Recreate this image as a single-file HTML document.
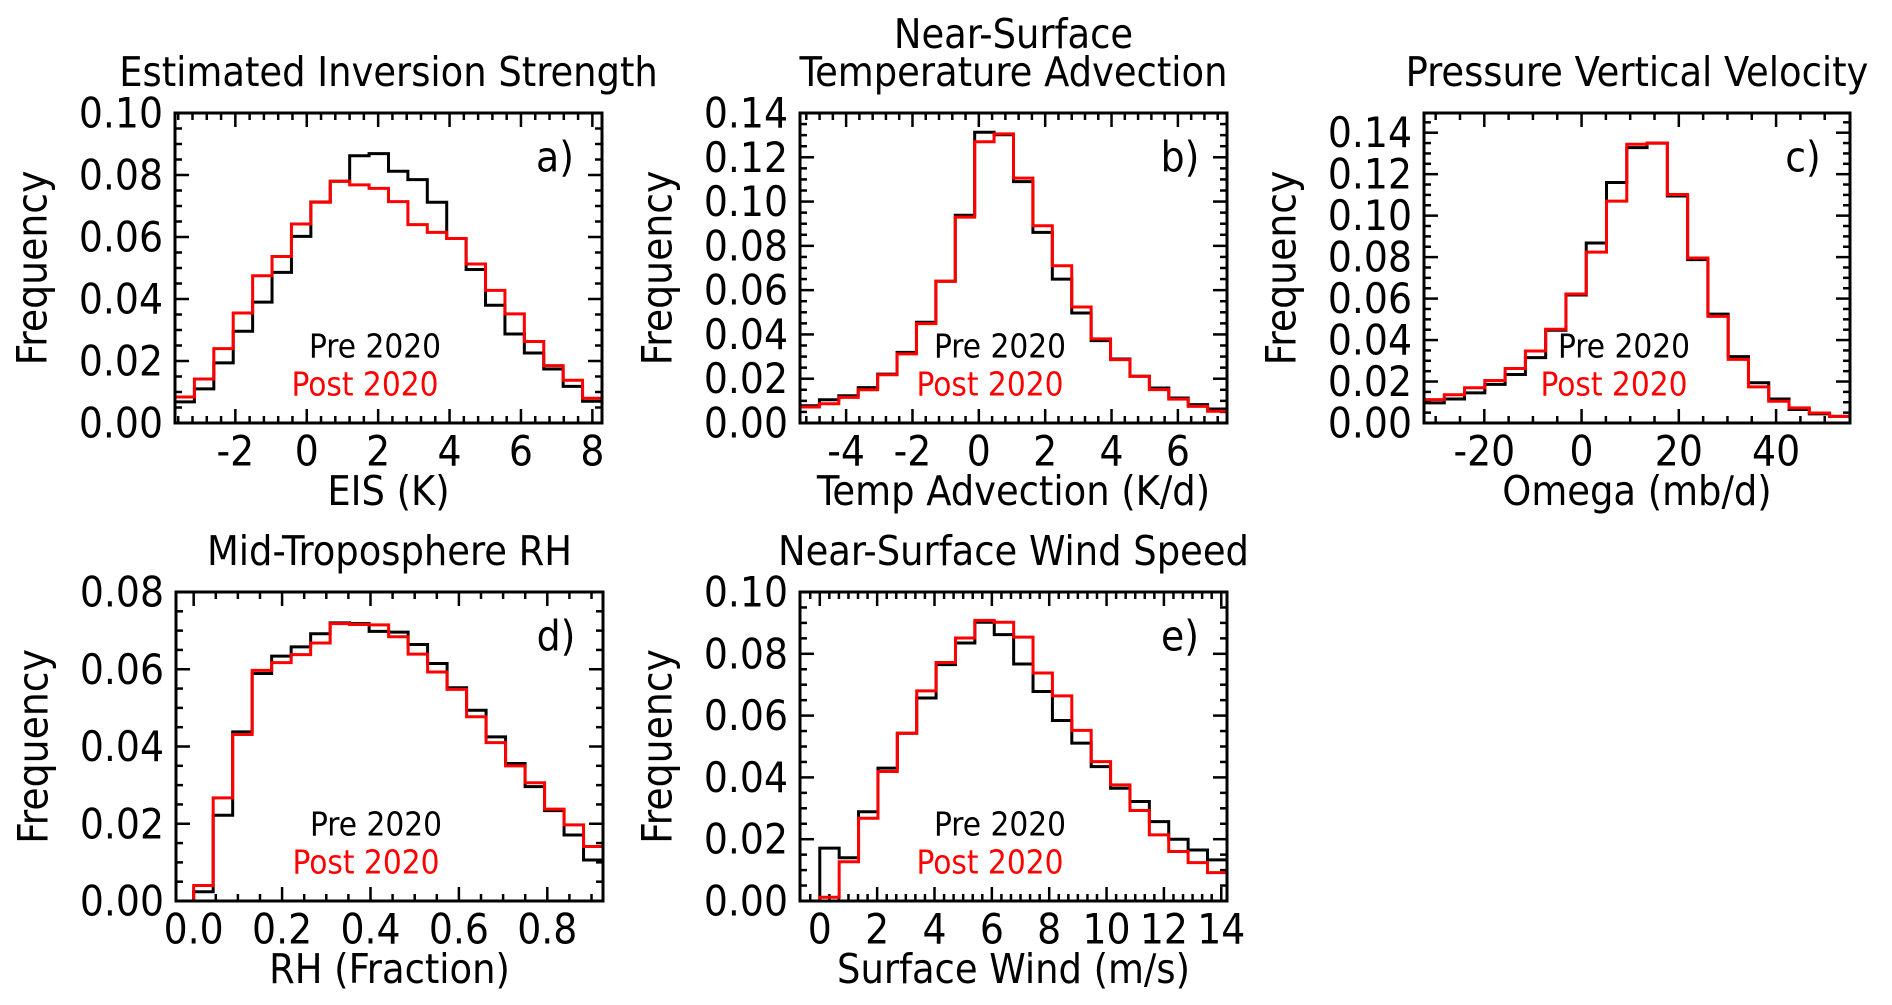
<!DOCTYPE html>
<html><head><meta charset="utf-8"><style>
html,body{margin:0;padding:0;background:#fff}
svg{display:block}
text{font-family:"DejaVu Sans Condensed","DejaVu Sans","Liberation Sans",sans-serif}
</style></head><body>
<svg id="fig" width="1892" height="1005" viewBox="0 0 1892 1005" xmlns="http://www.w3.org/2000/svg"></svg>
<script>
// ---- data ----
const eisPre  = [0.0068,0.011,0.0194,0.0296,0.039,0.0486,0.0602,0.0713,0.078,0.0862,0.0869,0.0812,0.0785,0.0712,0.0595,0.0495,0.038,0.0287,0.0226,0.0174,0.0118,0.007];
const eisPost = [0.0084,0.0142,0.024,0.0355,0.0475,0.0537,0.0642,0.0712,0.078,0.0768,0.0757,0.0714,0.064,0.0615,0.0595,0.0513,0.0428,0.0352,0.0263,0.0185,0.0138,0.008];
const advPre  = [0.0078,0.0105,0.0123,0.016,0.0221,0.0319,0.0455,0.064,0.0938,0.1313,0.1302,0.109,0.0861,0.065,0.0497,0.0372,0.0289,0.0211,0.0158,0.0113,0.0083,0.0063];
const advPost = [0.0072,0.0087,0.0116,0.015,0.0218,0.0312,0.0449,0.064,0.093,0.127,0.1306,0.1106,0.0891,0.071,0.0524,0.038,0.0286,0.0211,0.0151,0.0108,0.0075,0.0053];
const omgPre  = [0.0097,0.0116,0.0145,0.0186,0.0234,0.0315,0.0447,0.0617,0.0868,0.116,0.1328,0.135,0.1095,0.0788,0.0525,0.032,0.0194,0.0116,0.0065,0.0044,0.0032];
const omgPost = [0.0113,0.0136,0.017,0.0205,0.0263,0.0347,0.0452,0.0622,0.0824,0.107,0.1344,0.135,0.1102,0.0796,0.0514,0.0307,0.0174,0.0105,0.0073,0.0048,0.0032];
const rhPre   = [0.0024,0.0222,0.0438,0.0589,0.0634,0.0658,0.0692,0.072,0.0718,0.0698,0.0696,0.0664,0.0615,0.0552,0.0494,0.0425,0.0356,0.0296,0.0234,0.0171,0.0106];
const rhPost  = [0.004,0.0267,0.0431,0.0597,0.0617,0.0638,0.0668,0.0718,0.0716,0.0715,0.0684,0.0639,0.0593,0.0548,0.0477,0.041,0.035,0.0306,0.0238,0.0197,0.0141];
const windPre = [0.0171,0.014,0.0289,0.043,0.0543,0.0657,0.0765,0.0835,0.0902,0.0862,0.0767,0.0678,0.0584,0.0511,0.0435,0.0365,0.0322,0.0257,0.02,0.0165,0.0133];
const windPost= [0.0012,0.0127,0.0268,0.0419,0.0543,0.068,0.0772,0.0851,0.0908,0.0902,0.0854,0.0738,0.0664,0.0552,0.0451,0.0376,0.0293,0.0214,0.016,0.0124,0.0092];
// bin starts / bin widths
const binStart = [-3.69,-5.39,-32.4,0.0,0.0];
const binWidth = [0.5436,0.585,4.17,0.0441,0.676];
const xTicksA = [-2,0,2,4,6,8];
const xTicksB = [-4,-2,0,2,4,6];
const xTicksC = [-20,0,20,40];
const xTicksD = [0,0.2,0.4,0.6,0.8];
const xTicksE = [0,2,4,6,8,10,12,14];
const yTicksA = [0,0.02,0.04,0.06,0.08,0.10];
const yTicksB = [0,0.02,0.04,0.06,0.08,0.10,0.12,0.14];
const yTicksD = [0,0.02,0.04,0.06,0.08];

const NS="http://www.w3.org/2000/svg";
const svg=document.getElementById('fig');
function mk(tag,attrs,parent){const e=document.createElementNS(NS,tag);for(const k in attrs)e.setAttribute(k,attrs[k]);(parent||svg).appendChild(e);return e;}
function txt(s,x,y,size,attrs,parent,color){const t=mk('text',Object.assign({x:x,y:y,'font-size':size,'text-anchor':'middle','dominant-baseline':'central'},attrs||{}),parent);t.style.fill=color||'#000';t.textContent=s;return t;}

const panels=[
 {id:'a',box:[175,113,602,423],xr:[-3.69,8.27],yr:[0,0.10],pre:eisPre,post:eisPost,bi:0,xt:xTicksA,xsub:5,yt:yTicksA,ysub:4,title:['Estimated Inversion Strength'],xl:'EIS (K)',xfmt:v=>String(v)},
 {id:'b',box:[800,113,1227,423],xr:[-5.39,7.48],yr:[0,0.14],pre:advPre,post:advPost,bi:1,xt:xTicksB,xsub:5,yt:yTicksB,ysub:4,title:['Near-Surface','Temperature Advection'],xl:'Temp Advection (K/d)',xfmt:v=>String(v)},
 {id:'c',box:[1424,113,1850,423],xr:[-32.4,55.2],yr:[0,0.1495],pre:omgPre,post:omgPost,bi:2,xt:xTicksC,xsub:4,yt:yTicksB,ysub:4,title:['Pressure Vertical Velocity'],xl:'Omega (mb/d)',xfmt:v=>String(v)},
 {id:'d',box:[176,592,603,901],xr:[-0.04,0.926],yr:[0,0.08],pre:rhPre,post:rhPost,bi:3,xt:xTicksD,xsub:4,yt:yTicksD,ysub:4,title:['Mid-Troposphere RH'],xl:'RH (Fraction)',xfmt:v=>v.toFixed(1)},
 {id:'e',box:[800,592,1227,901],xr:[-0.69,14.2],yr:[0,0.10],pre:windPre,post:windPost,bi:4,xt:xTicksE,xsub:6,yt:yTicksA,ysub:4,title:['Near-Surface Wind Speed'],xl:'Surface Wind (m/s)',xfmt:v=>String(v)}
];

panels.forEach(p=>{
  const [x0,y0,x1,y1]=p.box;
  const g=mk('g',{});
  
  
  const X=v=>x0+(v-p.xr[0])/(p.xr[1]-p.xr[0])*(x1-x0);
  const Y=v=>y1-(v-p.yr[0])/(p.yr[1]-p.yr[0])*(y1-y0);
  const cx=(x0+x1)/2, cy=(y0+y1)/2;
  p.title.forEach((t,i)=>{
    const n=p.title.length;
    const el=txt(t,cx,y0-41-(n-1-i)*38,41,{},g);
    
    
  });
  const tk=mk('g',{stroke:'#000','stroke-width':2.5},g);
  
  
  const xstep=p.xt[1]-p.xt[0];
  const xmin=p.xt[0]-xstep*3, xmax=p.xt[p.xt.length-1]+xstep*3;
  for(let v=xmin; v<=xmax+1e-9; v+=xstep/p.xsub){
    const px=X(v); if(px<x0+1||px>x1-1) continue;
    const major=Math.abs(Math.round((v-p.xt[0])/xstep)*xstep-(v-p.xt[0]))<1e-6;
    const L=major?14:7;
    mk('line',{x1:px,y1:y1,x2:px,y2:y1-L},tk);
    mk('line',{x1:px,y1:y0,x2:px,y2:y0+L},tk);
  }
  const ystep=0.02;
  for(let v=0; v<=p.yr[1]+1e-9; v+=ystep/p.ysub){
    const py=Y(v); if(py<y0+1||py>y1-1) continue;
    const major=Math.abs(Math.round(v/ystep)*ystep-v)<1e-6;
    const L=major?14:7;
    mk('line',{x1:x0,y1:py,x2:x0+L,y2:py},tk);
    mk('line',{x1:x1,y1:py,x2:x1-L,y2:py},tk);
  }
  p.xt.forEach(v=>{
    const el=txt(p.xfmt(v),X(v),y1+28,42,{},g);
    
    
  });
  p.yt.forEach(v=>{
    const el=txt(v.toFixed(2),x0-12,Y(v),42,{'text-anchor':'end'},g);
    
    
  });
  const xl=txt(p.xl,cx,y1+68,41,{},g);
  
  
  const yx=x0-143;
  const yl=txt('Frequency',yx,cy,42,{transform:`rotate(-90 ${yx} ${cy})`},g);
  
  
  [[p.pre,'#000','pre'],[p.post,'#ff0000','post']].forEach(([arr,col,nm])=>{
    const s=binStart[p.bi], w=binWidth[p.bi];
    let d='';
    if(p.id==='d'||p.id==='e'){d+=`M${x0},${Y(0)} L${X(s)},${Y(0)} `;}
    arr.forEach((v,i)=>{
      const a=X(s+i*w), b=Math.min(X(s+(i+1)*w),x1);
      d+=(d===''?'M':'L')+`${Math.max(a,x0)},${Y(v)} L${b},${Y(v)} `;
    });
    const path=mk('path',{d:d,fill:'none',stroke:col,'stroke-width':3},g);
    
    
  });
  const fr=mk('rect',{x:x0,y:y0,width:x1-x0,height:y1-y0,fill:'none',stroke:'#000','stroke-width':3},g);
  
  
  const pl=txt(p.id+')',x1-47,y0+44,42,{},g);
  
  
  const l1=txt('Pre 2020',x0+200,y1-77,33,{},g);
  
  
  const l2=txt('Post 2020',x0+190,y1-39,33,{},g,'#ff0000');
  
  
});
</script>
</body></html>
